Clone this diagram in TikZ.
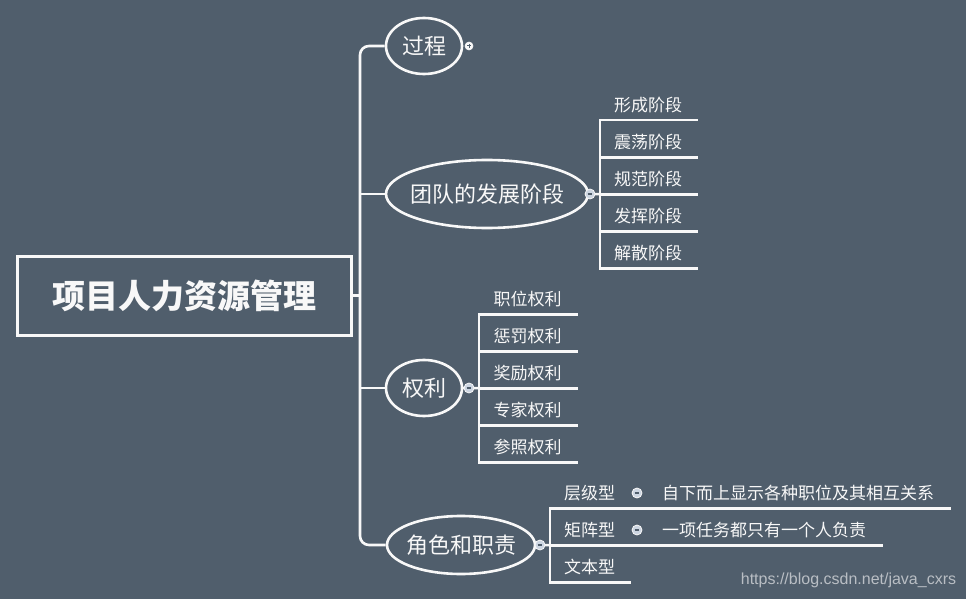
\documentclass[tikz,border=0pt]{standalone}
\usepackage{fontspec}
\newfontfamily\cjk{Noto Sans CJK SC}
\newfontfamily\urlfont{Liberation Sans}
\usetikzlibrary{shapes.geometric}
\definecolor{bgslate}{RGB}{80,94,108}
\definecolor{linkwhite}{RGB}{248,248,248}
\definecolor{foldgray}{RGB}{205,214,226}
\definecolor{urlgray}{RGB}{185,190,196}

\begin{document}
\begin{tikzpicture}[x=1pt, y=-1pt,
  link/.style={draw=linkwhite, line width=2.6pt, line cap=rect},
  central/.style={rectangle, draw=linkwhite, line width=3pt, inner sep=0pt,
                  minimum width=334pt, minimum height=79pt, text=linkwhite,
                  font=\cjk\bfseries\fontsize{33}{36}\selectfont},
  topic/.style={ellipse, draw=linkwhite, line width=2.6pt, inner ysep=0pt, inner xsep=-10pt,
                text=linkwhite, font=\cjk\fontsize{22}{26}\selectfont},
  leaf/.style={rectangle, inner sep=0pt, minimum height=30pt,
               text=linkwhite, font=\cjk\fontsize{17}{20}\selectfont},
  fold/.style={circle, draw=linkwhite, fill=foldgray, line width=0.8pt,
               minimum size=10pt, inner sep=0pt,
               path picture={\draw[bgslate, line width=1.2pt]
                 ([xshift=-2.4pt]path picture bounding box.center) --
                 ([xshift=2.4pt]path picture bounding box.center);}},
  unfold/.style={circle, draw=linkwhite, fill=linkwhite, line width=0.6pt,
                 minimum size=8pt, inner sep=0pt,
                 path picture={\draw[bgslate, line width=1pt]
                   ([xshift=-2pt]path picture bounding box.center) --
                   ([xshift=2pt]path picture bounding box.center)
                   ([yshift=-2pt]path picture bounding box.center) --
                   ([yshift=2pt]path picture bounding box.center);}},
]
% Background
\fill[bgslate] (0,0) rectangle (966,599);
\useasboundingbox (0,0) rectangle (966,599);

% Central topic
\node[central] (root) at (184,295.5) {项目人力资源管理};
\coordinate (jt) at (360,295.5);

% Main topics
\node[topic, minimum width=76pt, minimum height=56pt] (guo) at (424,46) {过程};
\node[topic, minimum width=202pt, minimum height=68pt] (team) at (487,194) {团队的发展阶段};
\node[topic, minimum width=76pt, minimum height=56pt] (power) at (424,388) {权利};
\node[topic, minimum width=148pt, minimum height=58pt] (role) at (461,545) {角色和职责};

% Trunk
\draw[link, line cap=butt, rounded corners=9pt] (guo.west) -| (jt) |- (role.west);
\draw[link, line cap=butt] (root.east) -- (jt);
\draw[link, line cap=butt] (jt |- team.west) -- (team.west);
\draw[link, line cap=butt] (jt |- power.west) -- (power.west);

% Team stages
\foreach \t [count=\i] in {形成阶段,震荡阶段,规范阶段,发挥阶段,解散阶段}
  \node[leaf, minimum width=96pt] (s\i) at (648,{105+37*(\i-1)}) {\t};
\foreach \i in {1,...,5}
  \draw[link] (s\i.south west) -- (s\i.south east);
\draw[link] (s1.south west) -- (s5.south west);
\draw[link] (team.east) -- (s3.south west);

% Power types
\foreach \t [count=\i] in {职位权利,惩罚权利,奖励权利,专家权利,参照权利}
  \node[leaf, minimum width=97pt] (p\i) at (527.5,{299+37*(\i-1)}) {\t};
\foreach \i in {1,...,5}
  \draw[link] (p\i.south west) -- (p\i.south east);
\draw[link] (p1.south west) -- (p5.south west);
\draw[link] (power.east) -- (p3.south west);

% Roles and duties
\foreach \t [count=\i] in {层级型,矩阵型,文本型}
  \node[leaf, minimum width=79pt] (c\i) at (589.5,{493+37*(\i-1)}) {\t};
\node[leaf, minimum width=303pt] (d1) at (798,493) {自下而上显示各种职位及其相互关系};
\node[leaf, minimum width=235pt] (d2) at (764,530) {一项任务都只有一个人负责};
\draw[link] (c1.south west) -- (d1.south east);
\draw[link] (c2.south west) -- (d2.south east);
\draw[link] (c3.south west) -- (c3.south east);
\draw[link] (c1.south west) -- (c3.south west);
\draw[link] (role.east) -- (c2.south west);

% Fold markers
\node[unfold] (fg) at (469,46) {};
\node[fold] (ft) at (590,194) {};
\node[fold] (fp) at (469,388) {};
\node[fold] (fr) at (540,545) {};
\node[fold] (fc1) at (637,493) {};
\node[fold] (fc2) at (637,530) {};

% Watermark
\node[text=urlgray, font=\urlfont\fontsize{16}{18}\selectfont] (url) at (848.5,580) {https://blog.csdn.net/java\_cxrs};
\end{tikzpicture}
\end{document}
